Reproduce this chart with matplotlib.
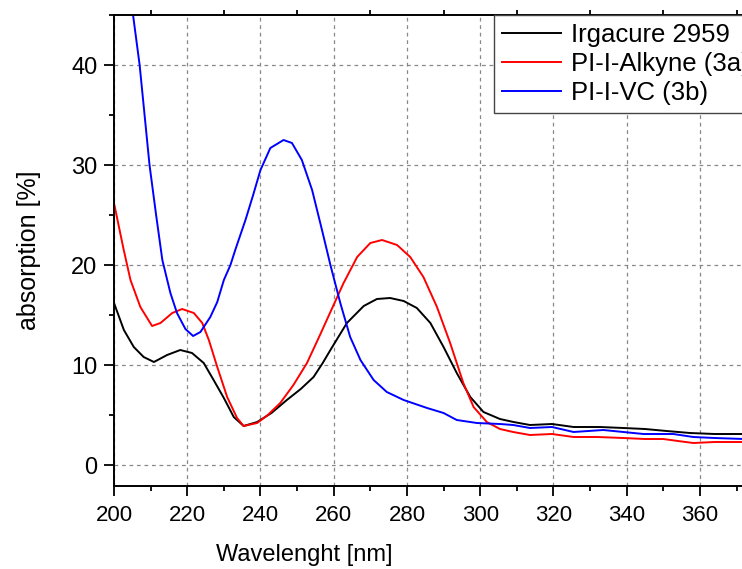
import matplotlib
matplotlib.use("Agg")
import matplotlib.pyplot as plt
from matplotlib.ticker import MultipleLocator

plt.rcParams['font.family'] = ['Liberation Sans', 'DejaVu Sans']

# Irgacure 2959
wl_irg = [200, 202.7, 205.4, 208.1, 210.9, 214.5, 218.1, 221.3, 224.5, 227.2, 230, 232.7,
          235.4, 239.1, 243, 247.2, 251, 254.5, 257, 259.1, 263.6, 268.2, 271.8, 275.4,
          279.1, 282.7, 286.4, 290, 293.6, 297.3, 300.9, 305.4, 309.1, 313.6, 319.6,
          325.5, 332.7, 339.1, 345, 350.9, 357.3, 364, 372]
abs_irg = [16.2, 13.5, 11.8, 10.8, 10.3, 11.0, 11.5, 11.2, 10.2, 8.5, 6.7, 4.8,
           3.9, 4.3, 5.2, 6.5, 7.6, 8.8, 10.2, 11.5, 14.2, 15.9, 16.6, 16.7,
           16.4, 15.7, 14.2, 11.8, 9.2, 6.8, 5.3, 4.6, 4.3, 4.0, 4.1,
           3.8, 3.8, 3.7, 3.6, 3.4, 3.2, 3.1, 3.1]

# PI-I-Alkyne (3a)
wl_alk = [200, 202.6, 204.5, 207.2, 210.4, 212.7, 215.9, 218.6, 221.8, 224.1, 225.9, 228.2,
          230.9, 233.6, 235.4, 239.1, 242, 245.4, 249, 252.7, 256, 259.1, 262.7, 266.4,
          270, 273.2, 277.3, 280.9, 284.5, 288.2, 291.8, 295.4, 298.2, 301.8, 305.4, 309,
          313.6, 319.6, 325.5, 332, 339.1, 345, 350, 354, 358.2, 364, 372]
abs_alk = [26.2, 21.6, 18.5, 15.8, 13.9, 14.2, 15.2, 15.6, 15.2, 14.2, 12.5, 9.8,
           6.8, 4.7, 3.9, 4.2, 5.0, 6.2, 8.0, 10.2, 12.8, 15.3, 18.2, 20.8,
           22.2, 22.5, 22.0, 20.8, 18.8, 15.8, 12.2, 8.2, 5.8, 4.3, 3.6, 3.3,
           3.0, 3.1, 2.8, 2.8, 2.7, 2.6, 2.6, 2.4, 2.2, 2.3, 2.3]

# PI-I-VC (3b)
wl_vc = [200, 202.5, 205.2, 207, 209.7, 211.5, 213.2, 215.4, 217.2, 219.5, 221.6, 223.6,
         226.3, 228.2, 230, 231.8, 233.2, 235.9, 238, 240, 242.7, 246.3, 248.6, 251.3,
         254.1, 256.8, 259.1, 261.8, 264.5, 267.3, 270.9, 274.5, 279.1, 285.5, 290,
         293.6, 299.1, 305.4, 309, 313.6, 319.6, 325.5, 333.6, 339.1, 344.6, 352.7,
         358.2, 364, 372]
abs_vc = [63, 54, 45, 40, 30, 25, 20.5, 17.2, 15.2, 13.6, 12.9, 13.3,
          14.8, 16.3, 18.5, 20, 21.6, 24.5, 27, 29.5, 31.7, 32.5, 32.2, 30.5,
          27.5, 23.5, 20, 16.2, 12.8, 10.5, 8.5, 7.3, 6.5, 5.7, 5.2,
          4.5, 4.2, 4.1, 4.0, 3.7, 3.8, 3.3, 3.5, 3.3, 3.1, 3.1,
          2.8, 2.7, 2.6]

labels = ["Irgacure 2959", "PI-I-Alkyne (3a)", "PI-I-VC (3b)"]

fig = plt.figure(figsize=(7.42, 5.69), dpi=100)
ax = fig.add_axes([114/742, 83/569, 628/742, 471/569])

ax.plot(wl_irg, abs_irg, color="black", lw=1.4, label=labels[0])
ax.plot(wl_alk, abs_alk, color="red", lw=1.4, label=labels[1])
ax.plot(wl_vc, abs_vc, color="blue", lw=1.4, label=labels[2])

ax.set_xlim(200, 371.5)
ax.set_ylim(-2.1, 45)
ax.xaxis.set_major_locator(MultipleLocator(20))
ax.xaxis.set_minor_locator(MultipleLocator(10))
ax.yaxis.set_major_locator(MultipleLocator(10))
ax.yaxis.set_minor_locator(MultipleLocator(5))

ax.grid(True, which="major", color="#888888", linestyle=(0, (3, 3)), lw=0.9)
ax.spines["right"].set_visible(False)
for s in ["left", "bottom", "top"]:
    ax.spines[s].set_linewidth(1.4)

ax.tick_params(axis="both", which="major", direction="out", length=7, width=1.3)
ax.tick_params(axis="both", which="minor", direction="out", length=3.5, width=1.3)
ax.tick_params(axis="x", which="both", top=True, labeltop=False)
ax.tick_params(axis="x", which="major", top=False)
ax.tick_params(axis="y", labelsize=17, pad=5)
ax.tick_params(axis="x", labelsize=16, pad=7)

ax.set_ylabel("absorption [%]", fontsize=18, labelpad=22)
fig.text(304.5/742, 1 - 555/569, "Wavelenght [nm]", ha="center", va="center",
         fontsize=17)

leg = ax.legend(loc="upper left", bbox_to_anchor=(0.605, 1.0), borderaxespad=0,
                fontsize=18.5, frameon=True, fancybox=False, framealpha=1,
                edgecolor="#444444", handlelength=2.3, handletextpad=0.4,
                labelspacing=0.2, borderpad=0.3)
leg.get_frame().set_linewidth(1.0)

fig.savefig("out.png", dpi=100)
